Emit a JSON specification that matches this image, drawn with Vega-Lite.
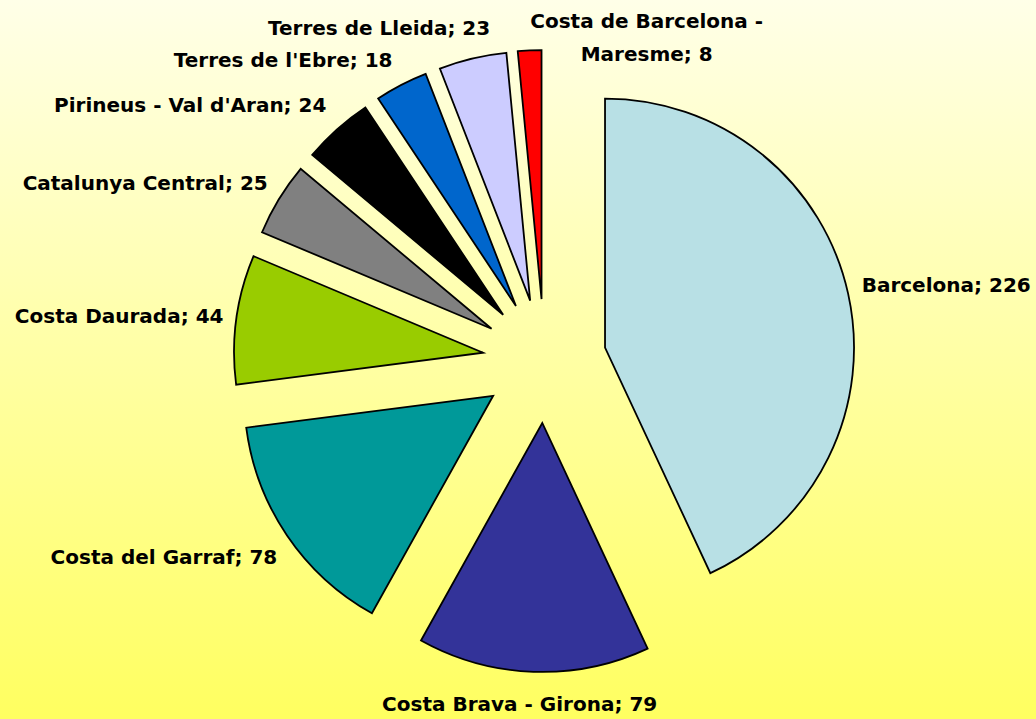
{
  "$schema": "https://vega.github.io/schema/vega-lite/v6.json",
  "width": 1036,
  "height": 719,
  "autosize": {"type": "fit", "contains": "padding"},
  "padding": 0,
  "background": "#FFFF9A",
  "view": {
    "stroke": null,
    "fill": {
      "gradient": "linear",
      "x1": 0, "y1": 0, "x2": 0, "y2": 1,
      "stops": [
        {"offset": 0, "color": "#FFFFE8"},
        {"offset": 1, "color": "#FFFF60"}
      ]
    }
  },
  "data": {
    "values": [
      {"name": "Barcelona", "value": 226, "rank": 1, "label": "Barcelona; 226"},
      {"name": "Costa Brava - Girona", "value": 79, "rank": 2, "label": "Costa Brava - Girona; 79"},
      {"name": "Costa del Garraf", "value": 78, "rank": 3, "label": "Costa del Garraf; 78"},
      {"name": "Costa Daurada", "value": 44, "rank": 4, "label": "Costa Daurada; 44"},
      {"name": "Catalunya Central", "value": 25, "rank": 5, "label": "Catalunya Central; 25"},
      {"name": "Pirineus - Val d'Aran", "value": 24, "rank": 6, "label": "Pirineus - Val d'Aran; 24"},
      {"name": "Terres de l'Ebre", "value": 18, "rank": 7, "label": "Terres de l'Ebre; 18"},
      {"name": "Terres de Lleida", "value": 23, "rank": 8, "label": "Terres de Lleida; 23"},
      {"name": "Costa de Barcelona - Maresme", "value": 8, "rank": 9, "label": "Costa de Barcelona -\nMaresme; 8"}
    ]
  },
  "encoding": {
    "theta": {"field": "value", "type": "quantitative", "stack": true},
    "order": {"field": "rank", "type": "quantitative", "sort": "ascending"}
  },
  "layer": [
    {
      "mark": {
        "type": "arc",
        "radius": 249,
        "stroke": "#000000",
        "strokeWidth": 1.8,
        "xOffset": {"expr": "26.5 + 62*sin(PI*(datum.value_start + datum.value_end)/525)"},
        "yOffset": {"expr": "1.5 - 62*cos(PI*(datum.value_start + datum.value_end)/525)"}
      },
      "encoding": {
        "color": {
          "field": "name",
          "type": "nominal",
          "legend": null,
          "scale": {
            "domain": ["Barcelona", "Costa Brava - Girona", "Costa del Garraf", "Costa Daurada", "Catalunya Central", "Pirineus - Val d'Aran", "Terres de l'Ebre", "Terres de Lleida", "Costa de Barcelona - Maresme"],
            "range": ["#B8E0E5", "#333399", "#009999", "#99CC00", "#808080", "#000000", "#0066CC", "#CCCCFF", "#FF0000"]
          }
        }
      }
    },
    {
      "mark": {
        "type": "text",
        "radius": 330,
        "font": "DejaVu Sans",
        "fontWeight": "bold",
        "fontSize": 20,
        "color": "#000000",
        "baseline": "middle",
        "lineBreak": "\n",
        "lineHeight": 33,
        "xOffset": 26.5,
        "yOffset": 2,
        "align": {"expr": "datum.name == 'Barcelona' ? 'left' : (datum.name == 'Costa Brava - Girona' || datum.name == 'Costa de Barcelona - Maresme') ? 'center' : 'right'"},
        "dx": {"expr": "datum.name == 'Costa de Barcelona - Maresme' ? 118 : datum.name == 'Terres de Lleida' ? 22 : datum.name == 'Costa Brava - Girona' ? -13 : datum.name == 'Barcelona' ? -5 : datum.name == 'Catalunya Central' ? 5 : datum.name == 'Costa Daurada' ? 6 : datum.name == 'Costa del Garraf' ? 6 : datum.name == \"Pirineus - Val d'Aran\" ? 2 : 0"},
        "dy": {"expr": "datum.name == 'Costa Brava - Girona' ? 14 : datum.name == 'Costa del Garraf' ? 11 : datum.name == \"Pirineus - Val d'Aran\" ? -10 : datum.name == \"Terres de l'Ebre\" ? -8 : datum.name == 'Terres de Lleida' ? -11 : datum.name == 'Costa de Barcelona - Maresme' ? -10 : datum.name == 'Catalunya Central' ? -6 : datum.name == 'Barcelona' ? -4 : 0"}
      },
      "encoding": {
        "text": {"field": "label", "type": "nominal"}
      }
    }
  ]
}
